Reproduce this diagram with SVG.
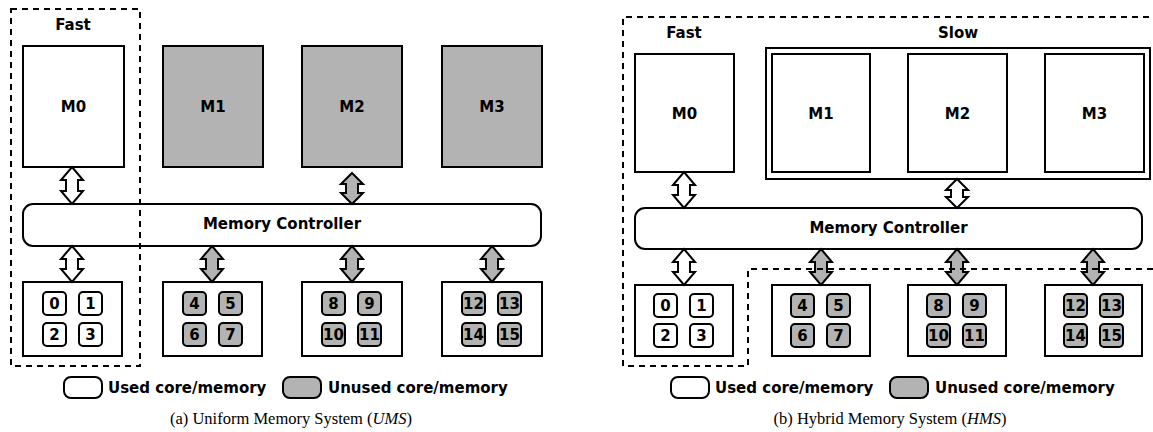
<svg xmlns="http://www.w3.org/2000/svg" width="1153" height="432" viewBox="0 0 1153 432">
<defs>
<style>
.box{stroke:#000;stroke-width:2;fill:#fff}
.gray{fill:#b3b3b3}
.dash{fill:none;stroke:#000;stroke-width:2;stroke-dasharray:6 5}
.lbl{font-family:"DejaVu Sans",sans-serif;font-weight:bold;font-size:15px;text-anchor:middle;fill:#000}
.core{font-family:"DejaVu Sans",sans-serif;font-weight:bold;font-size:15px;text-anchor:middle;fill:#000}
.leg{font-family:"DejaVu Sans",sans-serif;font-weight:bold;font-size:15px;fill:#000}
.cap{font-family:"Liberation Serif",serif;font-size:16.5px;text-anchor:middle;fill:#000}
.arr{stroke:#000;stroke-width:2;stroke-linejoin:miter;fill:#fff}
.arrg{stroke:#000;stroke-width:2;stroke-linejoin:miter;fill:#b3b3b3}
</style>
</defs>
<rect width="1153" height="432" fill="#fff"/>

<!-- ===== Panel (a) ===== -->
<g id="a-M0"><rect class="box" x="23" y="46" width="101" height="121"/><text class="lbl" x="73.5" y="112">M0</text></g>
<g id="a-M1"><rect class="box gray" x="163" y="46" width="100" height="121"/><text class="lbl" x="213" y="112">M1</text></g>
<g id="a-M2"><rect class="box gray" x="302" y="46" width="100" height="121"/><text class="lbl" x="352" y="112">M2</text></g>
<g id="a-M3"><rect class="box gray" x="442" y="46" width="100" height="121"/><text class="lbl" x="492" y="112">M3</text></g>
<g id="a-MC"><rect class="box" x="23" y="204" width="518" height="42" rx="10"/><text class="lbl" x="282" y="229">Memory Controller</text></g>

<g id="a-C0">
<rect class="box" x="23" y="282" width="99" height="74"/>
<rect class="box" x="43" y="292" width="23" height="23" rx="4"/><text class="core" x="54.5" y="309">0</text>
<rect class="box" x="79" y="292" width="23" height="23" rx="4"/><text class="core" x="90.5" y="309">1</text>
<rect class="box" x="43" y="323" width="23" height="23" rx="4"/><text class="core" x="54.5" y="340">2</text>
<rect class="box" x="79" y="323" width="23" height="23" rx="4"/><text class="core" x="90.5" y="340">3</text>
</g>
<g id="a-C1">
<rect class="box" x="163" y="282" width="99" height="74"/>
<rect class="box gray" x="183" y="292" width="23" height="23" rx="4"/><text class="core" x="194.5" y="309">4</text>
<rect class="box gray" x="219" y="292" width="23" height="23" rx="4"/><text class="core" x="230.5" y="309">5</text>
<rect class="box gray" x="183" y="323" width="23" height="23" rx="4"/><text class="core" x="194.5" y="340">6</text>
<rect class="box gray" x="219" y="323" width="23" height="23" rx="4"/><text class="core" x="230.5" y="340">7</text>
</g>
<g id="a-C2">
<rect class="box" x="302" y="282" width="100" height="74"/>
<rect class="box gray" x="322" y="292" width="23" height="23" rx="4"/><text class="core" x="333.5" y="309">8</text>
<rect class="box gray" x="358" y="292" width="23" height="23" rx="4"/><text class="core" x="369.5" y="309">9</text>
<rect class="box gray" x="322" y="323" width="23" height="23" rx="4"/><text class="core" x="333.5" y="340">10</text>
<rect class="box gray" x="358" y="323" width="23" height="23" rx="4"/><text class="core" x="369.5" y="340">11</text>
</g>
<g id="a-C3">
<rect class="box" x="442" y="282" width="100" height="74"/>
<rect class="box gray" x="462" y="292" width="23" height="23" rx="4"/><text class="core" x="473.5" y="309">12</text>
<rect class="box gray" x="498" y="292" width="23" height="23" rx="4"/><text class="core" x="509.5" y="309">13</text>
<rect class="box gray" x="462" y="323" width="23" height="23" rx="4"/><text class="core" x="473.5" y="340">14</text>
<rect class="box gray" x="498" y="323" width="23" height="23" rx="4"/><text class="core" x="509.5" y="340">15</text>
</g>

<!-- ===== Panel (b) ===== -->
<g id="b-M0"><rect class="box" x="635" y="54" width="99" height="118"/><text class="lbl" x="684.5" y="119">M0</text></g>
<g id="b-Slow">
<rect class="box" x="766" y="48" width="384" height="131"/>
<text class="lbl" x="958" y="38">Slow</text>
</g>
<g id="b-M1"><rect class="box" x="772" y="54" width="98" height="118"/><text class="lbl" x="821" y="119">M1</text></g>
<g id="b-M2"><rect class="box" x="908" y="54" width="99" height="118"/><text class="lbl" x="957.5" y="119">M2</text></g>
<g id="b-M3"><rect class="box" x="1045" y="54" width="99" height="118"/><text class="lbl" x="1094.5" y="119">M3</text></g>
<g id="b-MC"><rect class="box" x="635" y="208" width="507" height="41" rx="10"/><text class="lbl" x="888.5" y="233">Memory Controller</text></g>

<g id="b-C0">
<rect class="box" x="635" y="285" width="98" height="71"/>
<rect class="box" x="654" y="294" width="23" height="23" rx="4"/><text class="core" x="665.5" y="311">0</text>
<rect class="box" x="690" y="294" width="23" height="23" rx="4"/><text class="core" x="701.5" y="311">1</text>
<rect class="box" x="654" y="324" width="23" height="23" rx="4"/><text class="core" x="665.5" y="341">2</text>
<rect class="box" x="690" y="324" width="23" height="23" rx="4"/><text class="core" x="701.5" y="341">3</text>
</g>
<g id="b-C1">
<rect class="box" x="772" y="285" width="98" height="71"/>
<rect class="box gray" x="791" y="294" width="23" height="23" rx="4"/><text class="core" x="802.5" y="311">4</text>
<rect class="box gray" x="827" y="294" width="23" height="23" rx="4"/><text class="core" x="838.5" y="311">5</text>
<rect class="box gray" x="791" y="324" width="23" height="23" rx="4"/><text class="core" x="802.5" y="341">6</text>
<rect class="box gray" x="827" y="324" width="23" height="23" rx="4"/><text class="core" x="838.5" y="341">7</text>
</g>
<g id="b-C2">
<rect class="box" x="908" y="285" width="98" height="71"/>
<rect class="box gray" x="927" y="294" width="23" height="23" rx="4"/><text class="core" x="938.5" y="311">8</text>
<rect class="box gray" x="963" y="294" width="23" height="23" rx="4"/><text class="core" x="974.5" y="311">9</text>
<rect class="box gray" x="927" y="324" width="23" height="23" rx="4"/><text class="core" x="938.5" y="341">10</text>
<rect class="box gray" x="963" y="324" width="23" height="23" rx="4"/><text class="core" x="974.5" y="341">11</text>
</g>
<g id="b-C3">
<rect class="box" x="1045" y="285" width="97" height="71"/>
<rect class="box gray" x="1064" y="294" width="23" height="23" rx="4"/><text class="core" x="1075.5" y="311">12</text>
<rect class="box gray" x="1100" y="294" width="23" height="23" rx="4"/><text class="core" x="1111.5" y="311">13</text>
<rect class="box gray" x="1064" y="324" width="23" height="23" rx="4"/><text class="core" x="1075.5" y="341">14</text>
<rect class="box gray" x="1100" y="324" width="23" height="23" rx="4"/><text class="core" x="1111.5" y="341">15</text>
</g>

<!-- ===== Connectors (double arrows) ===== -->
<g id="connectors">
<!-- (a) -->
<path class="arr" d="M72,167 L83,180 L78,180 L78,191 L83,191 L72,204 L61,191 L66,191 L66,180 L61,180 Z"/>
<path class="arrg" d="M352,173 L363,184 L358,184 L358,193 L363,193 L352,204 L341,193 L346,193 L346,184 L341,184 Z"/>
<path class="arr" d="M72,246 L83,259 L78,259 L78,269 L83,269 L72,282 L61,269 L66,269 L66,259 L61,259 Z"/>
<path class="arrg" d="M212,246 L223,259 L218,259 L218,269 L223,269 L212,282 L201,269 L206,269 L206,259 L201,259 Z"/>
<path class="arrg" d="M352,246 L363,259 L358,259 L358,269 L363,269 L352,282 L341,269 L346,269 L346,259 L341,259 Z"/>
<path class="arrg" d="M492,246 L503,259 L498,259 L498,269 L503,269 L492,282 L481,269 L486,269 L486,259 L481,259 Z"/>
<!-- (b) -->
<path class="arr" d="M684,172 L695,185 L690,185 L690,195 L695,195 L684,208 L673,195 L678,195 L678,185 L673,185 Z"/>
<path class="arr" d="M957,179 L968,190 L963,190 L963,197 L968,197 L957,208 L946,197 L951,197 L951,190 L946,190 Z"/>
<path class="arr" d="M684,249 L695,262 L690,262 L690,272 L695,272 L684,285 L673,272 L678,272 L678,262 L673,262 Z"/>
<path class="arrg" d="M821,249 L832,262 L827,262 L827,272 L832,272 L821,285 L810,272 L815,272 L815,262 L810,262 Z"/>
<path class="arrg" d="M957,249 L968,262 L963,262 L963,272 L968,272 L957,285 L946,272 L951,272 L951,262 L946,262 Z"/>
<path class="arrg" d="M1093,249 L1104,262 L1099,262 L1099,272 L1104,272 L1093,285 L1082,272 L1087,272 L1087,262 L1082,262 Z"/>
</g>

<!-- ===== Regions (dashed) ===== -->
<g id="a-Fast">
<rect class="dash" x="11" y="9" width="129" height="357"/>
<text class="lbl" x="73" y="30">Fast</text>
</g>
<g id="b-Fast">
<path class="dash" d="M1160,17 H623 V366 H748 V269 H1160"/>
<text class="lbl" x="684" y="38">Fast</text>
</g>

<!-- ===== Legends ===== -->
<g id="a-legend">
<rect class="box" x="64" y="377" width="38" height="21" rx="7"/>
<text class="leg" x="108" y="393">Used core/memory</text>
<rect class="box gray" x="283" y="377" width="38" height="21" rx="7"/>
<text class="leg" x="328" y="393">Unused core/memory</text>
</g>
<g id="b-legend">
<rect class="box" x="671" y="377" width="38" height="21" rx="7"/>
<text class="leg" x="715" y="393">Used core/memory</text>
<rect class="box gray" x="890" y="377" width="38" height="21" rx="7"/>
<text class="leg" x="935" y="393">Unused core/memory</text>
</g>

<!-- ===== Captions ===== -->
<text class="cap" x="291" y="424">(a) Uniform Memory System (<tspan font-style="italic">UMS</tspan>)</text>
<text class="cap" x="890" y="424">(b) Hybrid Memory System (<tspan font-style="italic">HMS</tspan>)</text>
</svg>
